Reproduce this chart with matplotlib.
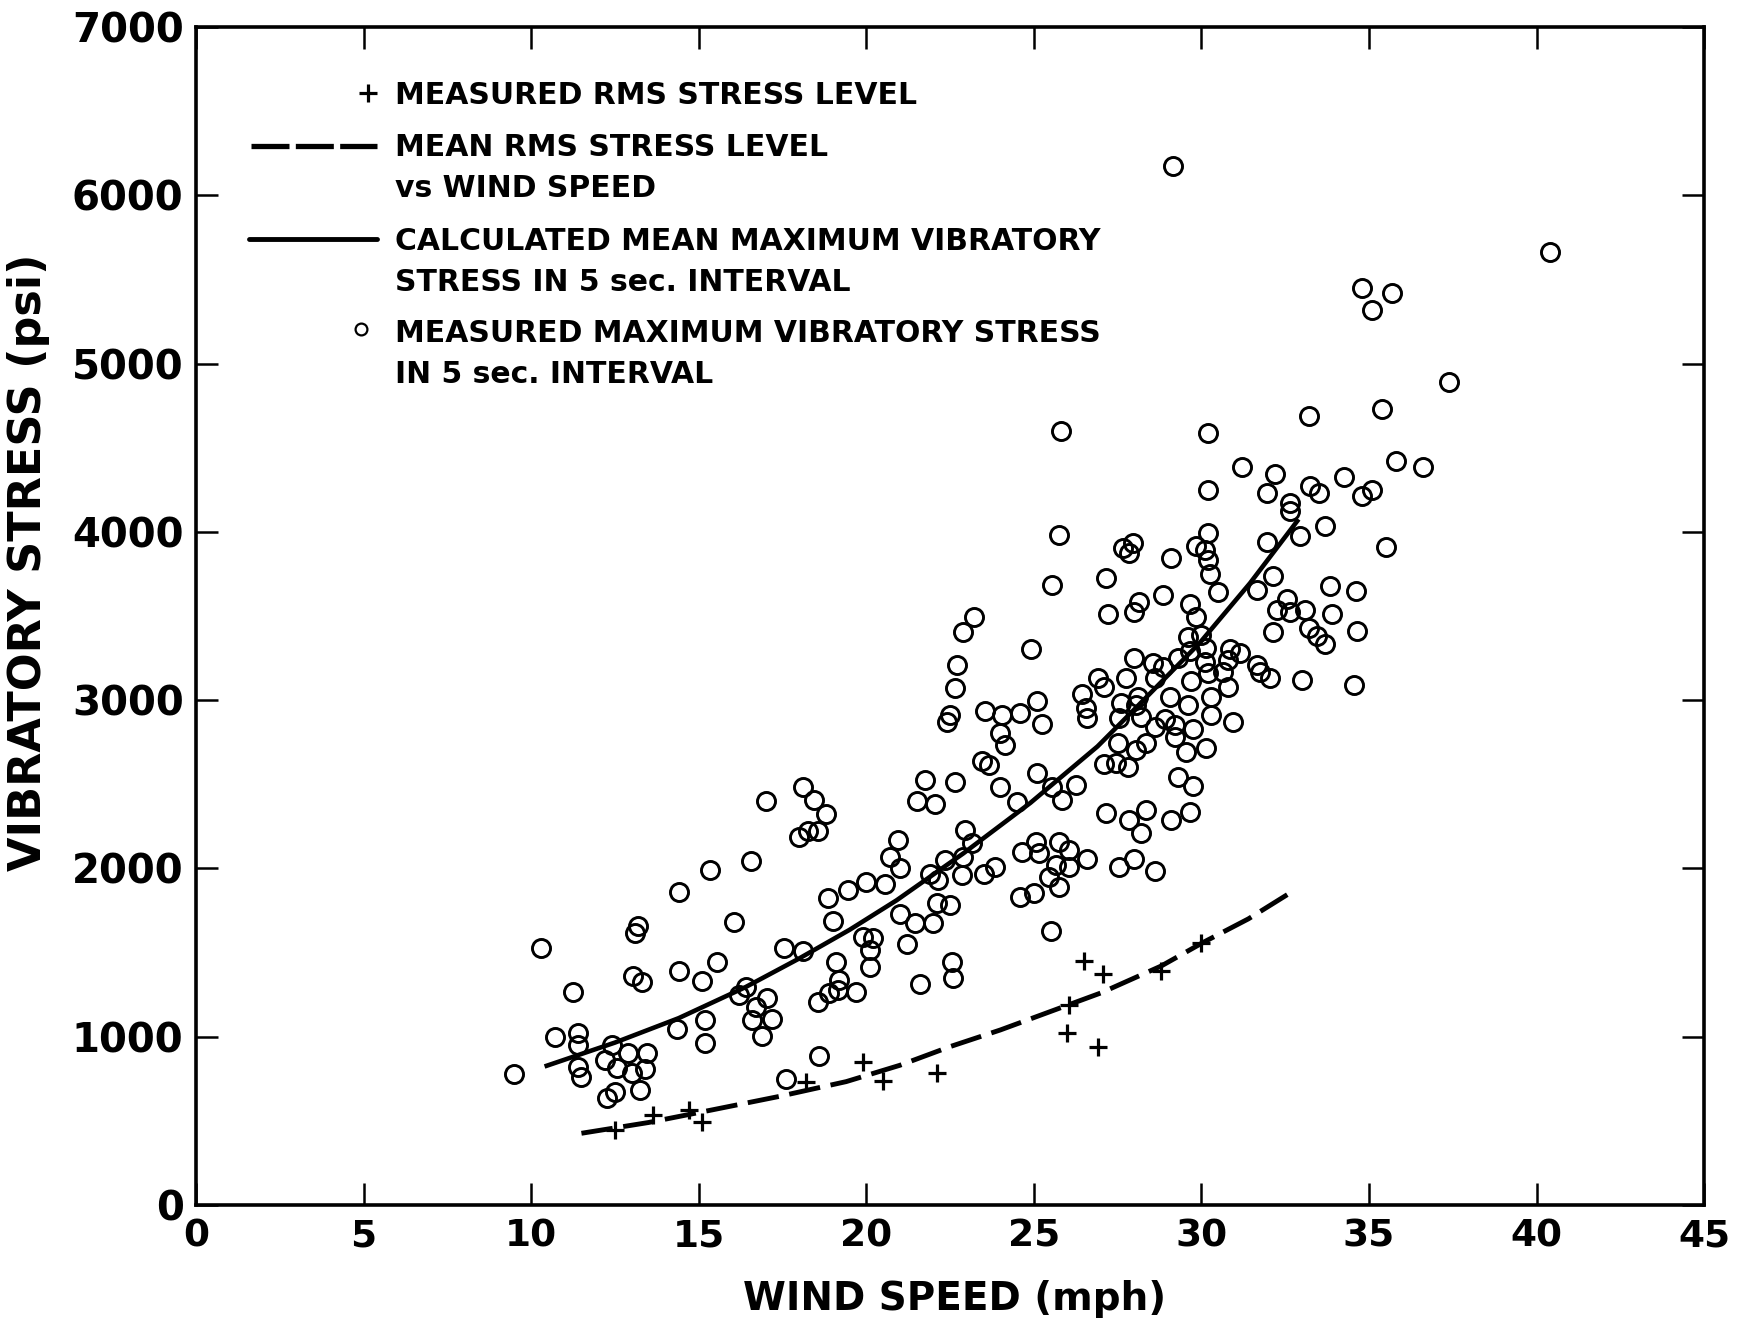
import matplotlib
matplotlib.use("Agg")
import matplotlib.pyplot as plt
from matplotlib.lines import Line2D

# ---------------- data ----------------
# measured maximum vibratory stress in 5 sec interval (circles)
max_wind = [
    9.5, 10.3, 10.7, 11.25, 11.4, 11.4, 11.4, 11.5, 12.2, 12.4, 12.55, 12.25, 12.5,
    12.9, 13.0, 13.4, 13.45, 13.25, 13.05, 13.3, 13.1, 13.2, 14.4, 14.4, 14.35,
    15.1, 15.55, 15.35, 15.2, 15.2, 16.05, 16.55, 17.0, 18.1, 18.45, 18.8, 18.0,
    18.25, 18.55, 17.55, 18.1, 16.4, 16.2, 16.7, 17.05, 16.6, 17.2, 16.9, 17.6,
    18.6, 18.55, 18.9, 19.1, 19.2, 19.15, 18.85, 19.0, 19.45,
    23.2, 22.9, 22.7, 22.65, 22.5, 22.4, 23.55, 24.05, 23.45, 23.65, 21.75, 22.65,
    21.5, 22.05, 22.95, 23.15, 22.35, 22.9, 21.9, 22.15, 22.85, 23.5, 23.85, 20.95,
    20.7, 21.0, 20.0, 20.55, 21.0, 21.45, 22.1, 22.5, 22.0, 21.2, 19.9, 20.2, 20.1,
    20.1, 19.7, 22.55, 22.6, 21.6, 24.0, 24.15,
    31.2, 30.2, 25.75, 30.2, 27.65, 27.95, 27.85, 29.1, 29.85, 30.1, 30.2, 30.25,
    30.5, 25.55, 27.15, 27.2, 28.0, 28.15, 28.85, 29.65, 29.85, 24.9, 29.6, 30.0,
    30.15, 28.0, 28.55, 28.85, 29.3, 29.65, 30.1, 30.85, 31.15, 30.8, 30.65, 30.2,
    29.7, 28.6, 27.75, 26.9, 27.1, 30.8, 26.45, 26.55, 26.6, 27.6, 28.1, 28.05,
    29.05, 29.6, 30.3, 30.3, 30.95, 29.75, 28.9, 29.2, 28.6, 28.2, 27.55, 27.5,
    28.35, 28.05, 29.2, 29.55, 30.15, 27.1, 27.45, 27.8, 29.3, 29.75, 25.1, 24.6,
    25.1, 25.25, 25.55, 25.85, 26.25, 24.5, 24.0, 27.15, 27.85, 28.35, 28.2, 29.1,
    29.65, 24.65, 25.05, 25.15, 25.75, 26.05, 26.6, 25.65, 26.05, 25.45, 25.75,
    27.55, 28.0, 28.6, 24.6, 25.0, 25.5,
    32.2, 31.95, 33.25, 33.5, 34.25, 32.65, 32.65, 33.7, 32.95, 31.95, 31.65, 32.15,
    32.55, 32.25, 32.65, 32.15, 33.1, 33.85, 33.9, 33.2, 33.45, 33.7, 33.0, 31.65,
    31.75, 32.05,
    40.4, 34.8, 35.7, 35.1, 37.4, 35.4, 33.2, 30.2, 35.8, 36.6, 35.1, 34.8, 35.5,
    34.6, 34.65, 34.55, 29.15, 25.8,
]
max_stress = [
    780, 1527, 996, 1264, 1024, 949, 822, 762, 862, 951, 813, 634, 673,
    905, 787, 807, 905, 684, 1362, 1323, 1619, 1655, 1858, 1392, 1044,
    1333, 1443, 1991, 1099, 961, 1684, 2044, 2401, 2486, 2407, 2322, 2189,
    2223, 2225, 1527, 1509, 1298, 1248, 1175, 1228, 1099, 1103, 1006, 749,
    887, 1208, 1258, 1446, 1337, 1278, 1822, 1689, 1872,
    3493, 3407, 3209, 3071, 2912, 2872, 2935, 2912, 2638, 2614, 2525, 2512,
    2403, 2383, 2228, 2153, 2050, 2070, 1967, 1931, 1961, 1967, 2010, 2169,
    2070, 2001, 1921, 1906, 1729, 1678, 1793, 1783, 1678, 1551, 1595, 1585, 1515,
    1416, 1268, 1446, 1347, 1313, 2803, 2733,
    4387, 4249, 3981, 3991, 3902, 3932, 3873, 3843, 3918, 3892, 3833, 3750,
    3645, 3684, 3728, 3510, 3526, 3585, 3625, 3571, 3496, 3302, 3377, 3387,
    3308, 3249, 3219, 3199, 3249, 3290, 3229, 3302, 3279, 3239, 3170, 3160,
    3116, 3130, 3130, 3130, 3076, 3080, 3036, 2951, 2892, 2981, 3021, 2971,
    3021, 2971, 3021, 2912, 2868, 2827, 2887, 2852, 2843, 2902, 2892, 2744,
    2744, 2704, 2779, 2694, 2714, 2619, 2628, 2605, 2545, 2490, 2569, 2926,
    2997, 2859, 2486, 2407, 2496, 2397, 2486, 2328, 2288, 2347, 2209, 2288,
    2338, 2100, 2159, 2090, 2159, 2110, 2054, 2020, 2010, 1951, 1892,
    2010, 2054, 1982, 1832, 1852, 1630,
    4341, 4228, 4270, 4233, 4327, 4170, 4123, 4036, 3975, 3941, 3652, 3740,
    3598, 3535, 3523, 3406, 3535, 3676, 3511, 3429, 3382, 3335, 3119, 3206,
    3166, 3129,
    5665, 5451, 5421, 5318, 4888, 4728, 4688, 4586, 4423, 4383, 4251, 4211, 3908,
    3650, 3410, 3090, 6172, 4600,
]

# measured RMS stress level (plus signs)
rms_wind = [12.5, 13.65, 14.7, 15.1, 18.2, 19.9, 20.5, 22.1, 26.0, 26.5, 27.05,
            26.05, 26.9, 28.8, 30.0]
rms_stress = [446, 535, 565, 495, 730, 849, 737, 783, 1020, 1450, 1375,
              1188, 941, 1390, 1554]

# calculated mean maximum vibratory stress (solid curve)
calc_wind = [10.4, 12.5, 14.4, 16.4, 18.0, 19.5, 20.9, 22.9, 24.9, 26.9, 27.95,
             29.95, 31.45, 32.9]
calc_stress = [823, 965, 1110, 1295, 1465, 1635, 1810, 2090, 2390, 2725, 2935,
               3340, 3695, 4075]

# mean RMS stress level vs wind speed (dashed curve)
mean_wind = [11.5, 13.5, 15.4, 17.4, 19.4, 21.0, 22.5, 24.0, 25.5, 27.0, 28.8,
             30.05, 31.4, 32.65]
mean_stress = [426, 490, 565, 645, 733, 830, 941, 1040, 1150, 1260, 1420,
               1560, 1700, 1855]

x_ticks = [0, 5, 10, 15, 20, 25, 30, 35, 40, 45]
y_ticks = [0, 1000, 2000, 3000, 4000, 5000, 6000, 7000]

legend_lines = [
    ["MEASURED RMS STRESS LEVEL"],
    ["MEAN RMS STRESS LEVEL", "vs WIND SPEED"],
    ["CALCULATED MEAN MAXIMUM VIBRATORY", "STRESS IN 5 sec. INTERVAL"],
    ["MEASURED MAXIMUM VIBRATORY STRESS", "IN 5 sec. INTERVAL"],
]

# ---------------- figure ----------------
plt.rcParams['font.family'] = ['DejaVu Sans']
fig = plt.figure(figsize=(17.38, 13.24), dpi=100)
ax = fig.add_axes([0.1128, 0.0899, 0.8677, 0.8897])

DASH = (0, (6.5, 2.2))
ax.plot(calc_wind, calc_stress, '-', color='black', lw=3.3, zorder=2,
        solid_capstyle='butt')
ax.plot(mean_wind, mean_stress, color='black', lw=3.5, zorder=2,
        linestyle=DASH, dash_capstyle='butt')
ax.plot(max_wind, max_stress, 'o', ls='none', mfc='none', mec='black',
        ms=13, mew=2.1, zorder=3)
ax.plot(rms_wind, rms_stress, '+', ls='none', color='black', ms=13, mew=2.3,
        zorder=3)

ax.set_xlim(0, 45)
ax.set_ylim(0, 7000)
ax.set_xticks(x_ticks)
ax.set_yticks(y_ticks)
ax.set_xticklabels([str(t) for t in x_ticks], fontsize=27, fontweight='bold')
ax.set_yticklabels([str(t) for t in y_ticks], fontsize=29, fontweight='bold')
ax.tick_params(axis='both', direction='in', length=16, width=1.8,
               top=True, right=True)
ax.tick_params(axis='x', pad=10)
ax.tick_params(axis='y', pad=9)
for s in ax.spines.values():
    s.set_linewidth(2.6)

ax.set_xlabel("WIND SPEED (mph)", fontsize=28, fontweight='bold')
ax.xaxis.set_label_coords(0.503, -0.064)
ax.set_ylabel("VIBRATORY STRESS (psi)", fontsize=32, fontweight='bold')
ax.yaxis.set_label_coords(-0.097, 0.546)

# ---------------- legend (manual, axes-fraction layout) ----------------
tx = 0.132
fs = 21.5
line_y = [[0.9416], [0.8973, 0.8625], [0.8183, 0.7835], [0.7402, 0.7054]]
for lines, ys in zip(legend_lines, line_y):
    for txt, yy in zip(lines, ys):
        ax.text(tx, yy, txt, transform=ax.transAxes, fontsize=fs,
                fontweight='bold', va='center', ha='left')

key_y = [0.9436, 0.8993, 0.8203, 0.744]
ax.add_line(Line2D([0.114], [key_y[0]], transform=ax.transAxes, marker='+',
                   color='black', ms=13, mew=2.3, ls='none'))
ax.add_line(Line2D([0.0365, 0.120], [key_y[1], key_y[1]],
                   transform=ax.transAxes, color='black', lw=3.8,
                   linestyle=(0, (7.2, 1.2)), dash_capstyle='butt'))
ax.add_line(Line2D([0.035, 0.120], [key_y[2], key_y[2]],
                   transform=ax.transAxes, color='black', lw=3.5,
                   solid_capstyle='round'))
ax.add_line(Line2D([0.1096], [key_y[3]], transform=ax.transAxes, marker='o',
                   mfc='none', mec='black', ms=8.5, mew=1.6, ls='none'))

fig.savefig("out.png", dpi=100)
